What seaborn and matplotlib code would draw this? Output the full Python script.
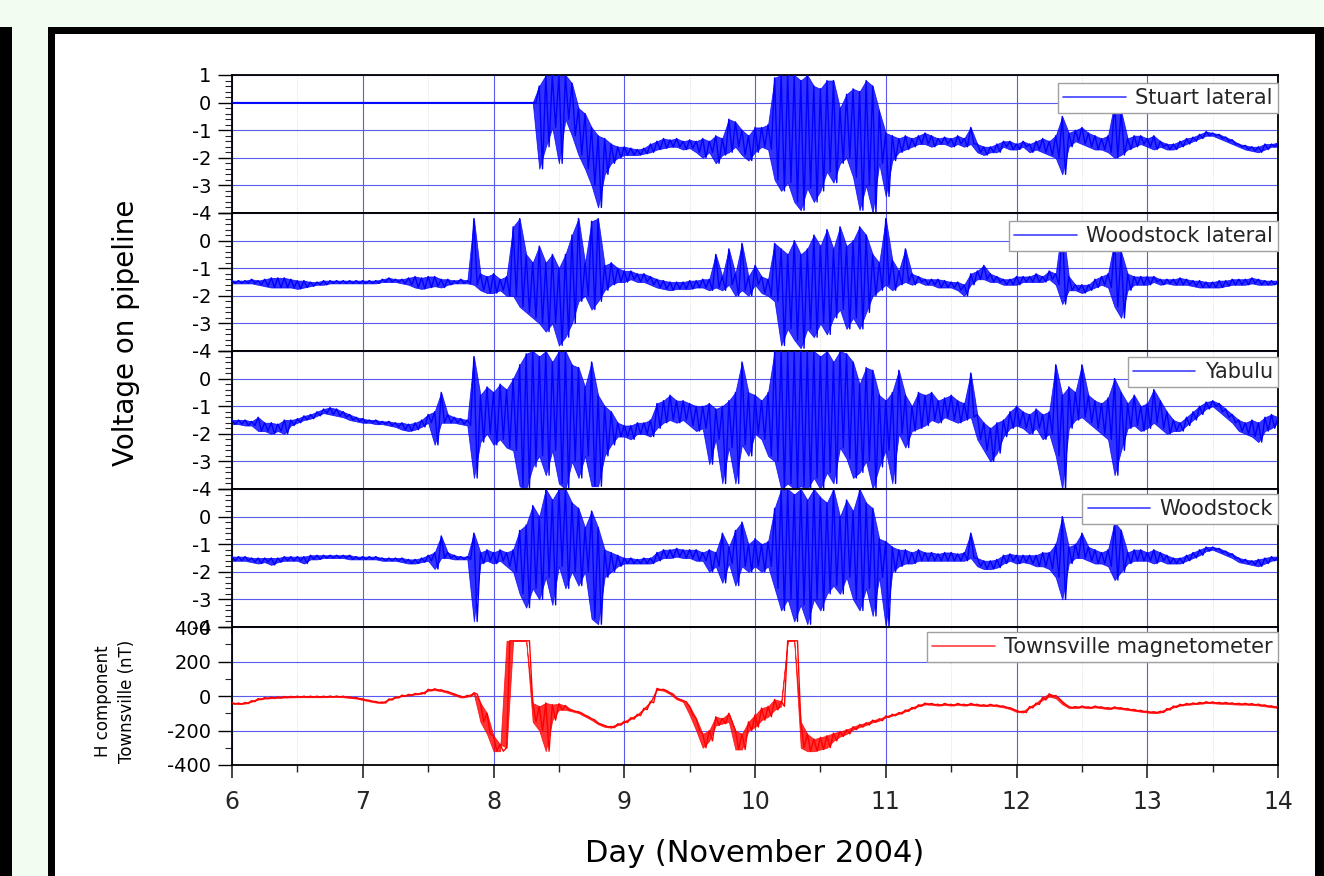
import numpy as np
import matplotlib
matplotlib.use("Agg")
import matplotlib.pyplot as plt
from matplotlib.patches import Rectangle
from matplotlib.ticker import MultipleLocator, FixedLocator, FuncFormatter
import seaborn as sns

# DATA  (one sample every 0.05 day from day 6 to day 14,
# "hi" = upper excursion, "lo" = lower excursion inside that sample)

day_start = 6.0
day_step = 0.05

stuart_hi = [
    0, 0, 0, 0, 0, 0, 0, 0, 0, 0,
    0, 0, 0, 0, 0, 0, 0, 0, 0, 0,
    0, 0, 0, 0, 0, 0, 0, 0, 0, 0,
    0, 0, 0, 0, 0, 0, 0, 0, 0, 0,
    0, 0, 0, 0, 0, 0, 0, 0.6, 1.0, 1.0,
    1.0, 1.0, 0.7, -0.2, -0.4, -0.9, -1.2, -1.3, -1.5, -1.6,
    -1.6, -1.65, -1.7, -1.65, -1.5, -1.4, -1.3, -1.35, -1.3, -1.4,
    -1.35, -1.4, -1.3, -1.4, -1.2, -1.3, -0.6, -0.7, -1.0, -1.2,
    -0.9, -0.9, -0.8, 0.9, 1.0, 1.0, 1.0, 0.8, 1.0, 0.6,
    0.5, 0.8, 0.8, -0.2, 0.3, 0.5, 0.4, 0.8, 0.6, -0.3,
    -1.1, -1.2, -1.3, -1.2, -1.3, -1.2, -1.1, -1.2, -1.3, -1.25,
    -1.3, -1.2, -1.3, -0.9, -1.5, -1.6, -1.6, -1.5, -1.4, -1.4,
    -1.5, -1.4, -1.5, -1.4, -1.3, -1.4, -1.2, -0.5, -1.1, -1.0,
    -0.9, -1.1, -1.2, -1.3, -1.2, 0.0, -0.3, -1.3, -1.2, -1.2,
    -1.3, -1.2, -1.4, -1.5, -1.5, -1.4, -1.3, -1.25, -1.15, -1.05,
    -1.1, -1.15, -1.25, -1.35, -1.5, -1.55, -1.6, -1.6, -1.5, -1.5,
    -1.45,
]
stuart_lo = [
    0, 0, 0, 0, 0, 0, 0, 0, 0, 0,
    0, 0, 0, 0, 0, 0, 0, 0, 0, 0,
    0, 0, 0, 0, 0, 0, 0, 0, 0, 0,
    0, 0, 0, 0, 0, 0, 0, 0, 0, 0,
    0, 0, 0, 0, 0, 0, 0, -2.4, -1.6, -0.9,
    -2.2, -0.6, -1.2, -1.9, -2.4, -3.0, -3.8, -2.6, -2.2, -2.0,
    -1.9, -1.9, -1.9, -1.85, -1.8, -1.7, -1.65, -1.6, -1.6, -1.7,
    -1.65, -1.8, -2.0, -1.8, -2.2, -1.9, -1.8, -1.6, -1.9, -2.1,
    -1.8, -1.6, -1.7, -2.8, -3.2, -2.9, -3.6, -3.9, -3.1, -3.6,
    -3.2, -2.5, -2.9, -2.2, -2.0, -2.7, -3.9, -3.0, -4.0, -2.2,
    -3.4, -2.1, -1.8, -1.7, -1.6, -1.5, -1.5, -1.6, -1.5, -1.5,
    -1.6, -1.5, -1.6, -1.5, -1.8, -1.9, -1.8, -1.8, -1.6, -1.7,
    -1.7, -1.6, -1.8, -1.7, -1.8, -1.9, -2.0, -2.6, -1.6, -1.4,
    -1.5, -1.6, -1.7, -1.7, -1.8, -2.0, -1.9, -1.7, -1.6, -1.5,
    -1.6, -1.7, -1.6, -1.7, -1.7, -1.6, -1.5, -1.4, -1.3, -1.2,
    -1.2, -1.3, -1.4, -1.5, -1.6, -1.7, -1.75, -1.8, -1.7, -1.6,
    -1.6,
]

woodlat_hi = [
    -1.45, -1.45, -1.45, -1.4, -1.45, -1.4, -1.35, -1.35, -1.35, -1.4,
    -1.45, -1.45, -1.5, -1.5, -1.45, -1.45, -1.45, -1.45, -1.45, -1.45,
    -1.45, -1.45, -1.45, -1.4, -1.35, -1.4, -1.4, -1.35, -1.3, -1.35,
    -1.3, -1.3, -1.4, -1.4, -1.45, -1.4, -1.45, 0.8, -1.2, -1.3,
    -1.2, -1.4, -1.3, 0.5, 0.8, -0.5, -0.8, -0.2, -0.8, -0.5,
    -1.0, -0.5, 0.2, 0.8, -0.8, 0.7, 0.8, -0.9, -0.8, -1.0,
    -1.1, -1.1, -1.2, -1.2, -1.3, -1.4, -1.45, -1.5, -1.5, -1.5,
    -1.45, -1.45, -1.4, -1.4, -0.5, -1.3, -0.3, -1.2, -0.1, -1.3,
    -0.9, -1.3, -1.4, -0.1, -0.3, -0.5, 0.0, -0.5, -0.3, 0.2,
    -0.2, 0.4, -0.3, 0.5, -0.2, 0.0, 0.5, 0.2, -0.5, -0.8,
    0.8, -0.7, -1.1, -0.3, -1.2, -1.3, -1.4, -1.4, -1.4, -1.45,
    -1.5, -1.5, -1.6, -1.2, -1.1, -0.9, -1.2, -1.3, -1.4, -1.4,
    -1.3, -1.3, -1.3, -1.2, -1.3, -1.1, -1.2, 0.6, -1.3, -1.6,
    -1.6, -1.6, -1.4, -1.3, -1.2, 0.0, -0.4, -1.2, -1.3, -1.3,
    -1.3, -1.3, -1.4, -1.4, -1.4, -1.35, -1.4, -1.45, -1.45, -1.5,
    -1.5, -1.45, -1.45, -1.4, -1.4, -1.4, -1.35, -1.4, -1.45, -1.45,
    -1.45,
]
woodlat_lo = [
    -1.55, -1.55, -1.55, -1.55, -1.6, -1.65, -1.7, -1.7, -1.7, -1.7,
    -1.75, -1.7, -1.65, -1.6, -1.6, -1.55, -1.55, -1.55, -1.55, -1.55,
    -1.55, -1.55, -1.55, -1.5, -1.5, -1.5, -1.55, -1.6, -1.7, -1.75,
    -1.7, -1.65, -1.7, -1.6, -1.55, -1.55, -1.55, -1.6, -1.8, -1.9,
    -1.9, -1.8, -2.0, -2.0, -2.4, -2.6, -2.8, -3.0, -3.3, -3.0,
    -3.8, -3.5, -3.0, -2.2, -2.0, -2.5, -2.2, -1.8, -1.6, -1.5,
    -1.5, -1.4, -1.5, -1.5, -1.6, -1.7, -1.75, -1.8, -1.75, -1.75,
    -1.75, -1.7, -1.7, -1.8, -1.7, -1.8, -1.6, -2.0, -1.8, -2.0,
    -1.6, -1.9, -2.0, -2.2, -3.8, -3.2, -3.6, -3.9, -3.2, -3.5,
    -3.0, -3.4, -2.8, -2.5, -3.2, -2.8, -3.2, -2.6, -2.0, -1.8,
    -1.6, -1.8, -1.6, -1.5, -1.6, -1.5, -1.6, -1.6, -1.7, -1.7,
    -1.7, -1.8, -2.0, -1.6, -1.4, -1.4, -1.5, -1.5, -1.6, -1.6,
    -1.6, -1.5, -1.5, -1.5, -1.5, -1.4, -1.6, -2.3, -1.8, -1.8,
    -1.9, -1.8, -1.7, -1.6, -1.7, -2.4, -2.8, -1.8, -1.6, -1.6,
    -1.6, -1.5, -1.6, -1.55, -1.6, -1.6, -1.6, -1.65, -1.7, -1.7,
    -1.7, -1.7, -1.65, -1.6, -1.6, -1.6, -1.55, -1.6, -1.6, -1.6,
    -1.55,
]

yabulu_hi = [
    -1.5, -1.5, -1.5, -1.55, -1.4, -1.6, -1.6, -1.65, -1.5, -1.5,
    -1.45, -1.35, -1.3, -1.2, -1.1, -1.05, -1.1, -1.2, -1.3, -1.4,
    -1.45, -1.5, -1.5, -1.55, -1.55, -1.6, -1.6, -1.65, -1.6, -1.5,
    -1.3, -1.2, -0.5, -1.3, -1.4, -1.45, -1.5, 0.8, -0.6, -0.3,
    -0.5, -0.2, -0.4, 0.0, 0.5, 0.9, 1.0, 0.8, 1.0, 0.6,
    1.0, 1.0, 0.5, 0.4, -0.3, 0.6, -0.6, -1.0, -1.2, -1.6,
    -1.7, -1.7, -1.6, -1.6, -1.5, -0.9, -0.8, -0.6, -0.8, -0.8,
    -0.9, -1.0, -1.0, -0.9, -1.1, -1.0, -0.8, -0.5, 0.6, -0.5,
    -0.6, -0.8, -0.5, 1.0, 1.0, 1.0, 1.0, 1.0, 1.0, 1.0,
    0.8, 1.0, 0.6, 1.0, 0.9, 0.6, -0.2, 0.4, 0.3, -0.6,
    -0.8, -0.5, 0.3, -0.6, -1.0, -0.5, -0.6, -0.5, -0.8, -0.7,
    -0.6, -0.8, -0.9, 0.2, -1.3, -1.6, -1.8, -1.6, -1.5, -1.2,
    -1.0, -1.2, -1.3, -1.1, -1.3, -1.2, 0.5, -0.6, -0.3, -0.5,
    0.5, -0.6, -0.8, -0.9, -0.7, 0.0, -0.5, -0.9, -0.6, -1.0,
    -0.9, -0.4, -0.8, -1.2, -1.5, -1.6, -1.4, -1.2, -1.0, -0.85,
    -0.8, -0.9, -1.1, -1.3, -1.5, -1.6, -1.5, -1.6, -1.4, -1.3,
    -1.4,
]
yabulu_lo = [
    -1.65, -1.65, -1.7, -1.7, -1.9, -1.9, -2.0, -1.9, -2.0, -1.7,
    -1.6, -1.5, -1.45, -1.35, -1.25, -1.3, -1.35, -1.4, -1.5, -1.55,
    -1.6, -1.6, -1.65, -1.65, -1.7, -1.75, -1.85, -1.9, -1.85, -1.75,
    -1.6, -2.4, -1.6, -1.6, -1.6, -1.65, -1.7, -3.6, -2.3, -2.0,
    -2.4, -2.2, -2.5, -2.6, -3.9, -4.0, -3.2, -2.8, -3.5, -2.6,
    -3.8, -4.0, -3.0, -3.6, -2.8, -3.9, -3.9, -2.8, -2.4, -2.1,
    -2.1, -2.2, -2.0, -2.0, -2.1, -1.8, -1.6, -1.5, -1.6, -1.5,
    -1.7, -1.9, -1.8, -3.1, -2.2, -3.8, -2.5, -3.8, -2.4, -2.8,
    -2.0, -2.2, -2.8, -3.0, -4.0, -3.8, -4.0, -3.9, -4.0, -3.6,
    -4.0, -3.4, -3.8, -2.5, -2.9, -3.6, -3.4, -3.0, -4.0, -3.2,
    -2.6, -3.8, -2.0, -2.5, -1.9, -1.8, -1.7, -1.5, -1.6, -1.4,
    -1.5, -1.6, -1.5, -1.4, -2.2, -2.6, -3.0, -2.7, -2.1, -1.8,
    -1.7, -1.8, -2.0, -1.8, -2.2, -2.0, -2.8, -4.0, -1.8, -1.5,
    -1.4, -1.6, -1.8, -2.0, -2.2, -3.5, -2.6, -1.8, -1.7, -1.9,
    -1.8, -1.6, -1.8, -2.0, -1.9, -1.9, -1.7, -1.5, -1.3, -1.1,
    -1.0, -1.2, -1.4, -1.6, -1.9, -2.0, -2.1, -2.3, -1.9, -1.8,
    -1.6,
]

woodstock_hi = [
    -1.45, -1.45, -1.45, -1.5, -1.5, -1.5, -1.5, -1.5, -1.45, -1.45,
    -1.45, -1.45, -1.4, -1.4, -1.4, -1.4, -1.4, -1.4, -1.4, -1.45,
    -1.45, -1.45, -1.45, -1.5, -1.5, -1.5, -1.5, -1.55, -1.55, -1.5,
    -1.4, -1.3, -0.7, -1.3, -1.4, -1.45, -1.45, -0.6, -1.3, -1.2,
    -1.3, -1.2, -1.3, -1.2, -0.5, -0.3, 0.4, 0.0, 1.0, 0.6,
    1.0, 1.0, 0.5, 0.3, -0.4, 0.2, -0.4, -1.2, -1.3, -1.4,
    -1.5, -1.5, -1.55, -1.5, -1.5, -1.3, -1.2, -1.2, -1.15, -1.2,
    -1.2, -1.2, -1.3, -1.2, -1.3, -0.6, -1.1, -0.5, -0.2, -1.0,
    -0.8, -1.0, -0.9, 0.3, 1.0, 1.0, 0.8, 1.0, 0.6, 1.0,
    0.7, 0.5, 1.0, 0.0, 0.6, 0.2, 1.0, 0.5, 0.3, -0.8,
    -0.9, -1.1, -1.2, -1.2, -1.3, -1.2, -1.3, -1.3, -1.35, -1.3,
    -1.3, -1.35, -1.3, -0.6, -1.5, -1.6, -1.6, -1.55, -1.4, -1.35,
    -1.4, -1.4, -1.4, -1.4, -1.3, -1.3, -1.0, 0.0, -1.1, -1.0,
    -0.6, -1.1, -1.2, -1.3, -1.2, -0.2, -0.5, -1.3, -1.2, -1.2,
    -1.3, -1.2, -1.3, -1.4, -1.5, -1.5, -1.4, -1.3, -1.2, -1.1,
    -1.1, -1.15, -1.25, -1.35, -1.5, -1.55, -1.6, -1.55, -1.5, -1.45,
    -1.45,
]
woodstock_lo = [
    -1.6, -1.6, -1.6, -1.65, -1.7, -1.65, -1.75, -1.65, -1.6, -1.6,
    -1.6, -1.7, -1.55, -1.55, -1.5, -1.5, -1.5, -1.5, -1.55, -1.55,
    -1.55, -1.55, -1.55, -1.6, -1.6, -1.6, -1.65, -1.7, -1.7, -1.65,
    -1.6, -1.9, -1.5, -1.5, -1.55, -1.55, -1.55, -3.8, -1.7, -1.6,
    -1.7, -1.6, -1.8, -2.0, -2.8, -3.3, -2.6, -3.0, -2.2, -3.2,
    -1.8, -2.6, -2.0, -2.5, -2.0, -3.7, -3.9, -2.2, -2.0, -1.8,
    -1.7, -1.7, -1.7, -1.7, -1.7, -1.6, -1.5, -1.5, -1.45, -1.5,
    -1.5, -1.6, -1.6, -2.0, -1.8, -2.4, -1.7, -2.5, -1.8, -2.0,
    -1.8, -2.0, -1.8, -2.6, -3.4, -3.0, -3.8, -3.2, -3.9, -3.0,
    -3.4, -2.8, -2.5, -2.8, -2.2, -3.0, -3.4, -2.6, -3.6, -2.2,
    -4.0, -2.0, -1.8, -1.7, -1.7, -1.6, -1.6, -1.6, -1.6, -1.6,
    -1.6, -1.6, -1.6, -1.5, -1.8, -1.9, -1.9, -1.85, -1.7, -1.6,
    -1.7, -1.65, -1.7, -1.8, -1.8, -1.9, -2.2, -3.0, -1.7, -1.5,
    -1.5, -1.6, -1.7, -1.7, -1.8, -2.3, -2.0, -1.7, -1.6, -1.6,
    -1.6, -1.7, -1.6, -1.7, -1.7, -1.7, -1.6, -1.5, -1.4, -1.25,
    -1.2, -1.3, -1.4, -1.5, -1.65, -1.7, -1.75, -1.8, -1.7, -1.6,
    -1.55,
]

mag_hi = [
    -39, -41, -38, -27, -15, -9, -7, -5, -3, -2,
    -1, -1, -1, -1, -1, 0, 0, -1, -5, -9,
    -17, -25, -32, -35, -17, -5, 5, 9, 15, 19,
    39, 42, 36, 26, 12, -1, 4, 19, -40, -100,
    -230, -280, -300, 320, 320, 320, -40, -60, -40, -50,
    -45, -55, -81, -91, -111, -131, -156, -171, -176, -161,
    -146, -126, -106, -71, -31, 44, 39, 19, -11, -26,
    -60, -130, -220, -200, -120, -130, -100, -200, -220, -150,
    -110, -70, -60, -20, -30, 320, 320, -150, -220, -250,
    -240, -230, -215, -205, -195, -178, -165, -155, -140, -132,
    -116, -106, -96, -81, -66, -51, -41, -43, -48, -43,
    -48, -43, -48, -43, -48, -51, -48, -52, -58, -68,
    -84, -88, -61, -41, -7, 13, 3, -32, -61, -61,
    -58, -63, -58, -63, -68, -63, -68, -73, -78, -83,
    -88, -91, -88, -73, -58, -48, -43, -40, -37, -33,
    -34, -37, -37, -40, -42, -42, -44, -47, -52, -57,
    -61,
]
mag_lo = [
    -45, -47, -44, -33, -21, -15, -13, -11, -9, -8,
    -7, -7, -7, -7, -7, -6, -6, -7, -11, -15,
    -23, -31, -38, -41, -23, -11, -1, 3, 9, 13,
    31, 34, 28, 18, 4, -9, -4, 11, -150, -220,
    -320, -320, 320, 320, 320, 320, -150, -200, -320, -140,
    -80, -80, -89, -99, -119, -139, -164, -179, -184, -169,
    -154, -134, -114, -79, -39, 36, 31, 11, -19, -34,
    -110, -200, -300, -260, -170, -160, -150, -310, -310, -200,
    -180, -140, -120, -80, -60, 320, 320, -300, -320, -320,
    -310, -300, -260, -235, -220, -195, -180, -168, -152, -143,
    -124, -114, -104, -89, -74, -59, -49, -51, -56, -51,
    -56, -51, -56, -51, -56, -59, -56, -60, -66, -76,
    -92, -96, -69, -49, -23, -3, -13, -48, -69, -69,
    -66, -71, -66, -71, -76, -71, -76, -81, -86, -91,
    -96, -99, -96, -81, -66, -56, -51, -48, -45, -41,
    -42, -45, -45, -48, -50, -50, -52, -55, -60, -65,
    -69,
]

voltage_names = ["Stuart lateral", "Woodstock lateral", "Yabulu", "Woodstock"]
voltage_hi = [stuart_hi, woodlat_hi, yabulu_hi, woodstock_hi]
voltage_lo = [stuart_lo, woodlat_lo, yabulu_lo, woodstock_lo]
mag_name = "Townsville magnetometer"

# HELPERS


def sample_days(values):
    return day_start + day_step * np.arange(len(values))


def zigzag(hi, lo):
    # upper value at the sample time, lower value half a step later
    days = sample_days(hi)
    x = np.column_stack([days, days + day_step / 2]).ravel()
    y = np.column_stack([hi, lo]).ravel()
    return x, y


def draw_trace(ax, hi, lo, color, name):
    # envelope band + zigzag trace so the record reads as a dense signal
    days = sample_days(hi)
    ax.fill_between(days, lo, hi, color=color, alpha=0.8, lw=0.6, zorder=2)
    x, y = zigzag(hi, lo)
    sns.lineplot(x=x, y=y, ax=ax, color=color, lw=1.0, label=name,
                 estimator=None, sort=False, zorder=3)


def style_panel(ax, bottom_panel):
    ax.set_xlim(6, 14)
    ax.xaxis.set_major_locator(MultipleLocator(1))
    ax.xaxis.set_minor_locator(MultipleLocator(0.5))
    ax.grid(True, which="major", color="#5a5aee", lw=0.8)
    ax.grid(True, which="minor", axis="x", color="#d8d8c8", lw=0.6, ls=":")
    ax.set_axisbelow(True)
    for side in ["top", "bottom", "left", "right"]:
        ax.spines[side].set_visible(True)
        ax.spines[side].set_color("black")
        ax.spines[side].set_linewidth(1.3)
    ax.tick_params(axis="y", which="major", direction="out", length=10,
                   width=1.0, pad=5, labelsize=14, left=True, colors="black")
    ax.tick_params(axis="y", which="minor", direction="out", length=5,
                   width=0.8, left=True)
    if bottom_panel:
        ax.tick_params(axis="x", which="major", direction="out", length=9,
                       width=1.2, pad=9, labelsize=17, bottom=True)
        ax.tick_params(axis="x", which="minor", direction="out", length=5,
                       width=1.0, bottom=True)
    else:
        ax.tick_params(axis="x", which="major", direction="out", length=5,
                       width=1.2, bottom=True, labelbottom=False)
        ax.tick_params(axis="x", which="minor", direction="out", length=3.5,
                       width=1.0, bottom=True)
    ax.set_xlabel("")
    ax.set_ylabel("")


def panel_legend(ax, top_gap):
    leg = ax.legend(
        loc="upper right",
        bbox_to_anchor=(1.0, 1 - top_gap / 138),
        borderaxespad=0,
        fontsize=15,
        handlelength=3.0,
        handletextpad=0.45,
        borderpad=0.25,
        fancybox=False,
        framealpha=1,
        edgecolor="#a0a0a0",
    )
    leg.set_zorder(5)
    leg.get_frame().set_linewidth(1.0)
    for line in leg.get_lines():
        line.set_linewidth(1.2)
        line.set_alpha(0.75)


# FIGURE

sns.set_theme(style="ticks")
plt.rcParams["font.family"] = ["DejaVu Sans"]
plt.rcParams["axes.unicode_minus"] = False

W, H = 1324, 876
fig = plt.figure(figsize=(W / 100, H / 100), dpi=100, facecolor="#f1fdf0")

# frame decorations around the chart
fig.add_artist(Rectangle((0, 0), 12 / W, (H - 27) / H, transform=fig.transFigure,
                         facecolor="black", edgecolor="none", zorder=-10))
fig.add_artist(Rectangle((48 / W, 0), 1.0, (H - 27) / H, transform=fig.transFigure,
                         facecolor="black", edgecolor="none", zorder=-10))
fig.add_artist(Rectangle((55 / W, 0), (1315 - 55) / W, (H - 34) / H,
                         transform=fig.transFigure, facecolor="white",
                         edgecolor="none", zorder=-9))

left, right = 232, 1278
panel_h = 138
tops = [75, 213, 351, 489, 627]
axes = [fig.add_axes([left / W, 1 - (t + panel_h) / H, (right - left) / W, panel_h / H])
        for t in tops]

legend_gaps = [8, 8, 6, 5]

for k, ax in enumerate(axes[:4]):
    draw_trace(ax, voltage_hi[k], voltage_lo[k], "#0000ff", voltage_names[k])
    style_panel(ax, bottom_panel=False)
    ax.set_ylim(-4, 1)
    ax.yaxis.set_major_locator(FixedLocator([-4, -3, -2, -1, 0, 1]))
    ax.yaxis.set_minor_locator(MultipleLocator(0.2))
    if k == 0:
        ax.yaxis.set_major_formatter(FuncFormatter(lambda v, p: "%d" % v))
    else:
        ax.yaxis.set_major_formatter(
            FuncFormatter(lambda v, p: "" if v > 0.5 else "%d" % v))
    panel_legend(ax, legend_gaps[k])

ax5 = axes[4]
draw_trace(ax5, mag_hi, mag_lo, "#ff0000", mag_name)
style_panel(ax5, bottom_panel=True)
ax5.set_ylim(-400, 400)
ax5.yaxis.set_major_locator(MultipleLocator(200))
ax5.yaxis.set_minor_locator(MultipleLocator(100))
ax5.yaxis.set_major_formatter(FuncFormatter(lambda v, p: "%d" % v))
panel_legend(ax5, 5)

fig.text(0.0952, (H - 333) / H, "Voltage on pipeline", rotation=90,
         ha="center", va="center", fontsize=20, color="black")
fig.text(115 / W, (H - 701) / H, "H component\nTownsville (nT)", rotation=90,
         ha="center", va="center", fontsize=12, color="black",
         linespacing=1.45, multialignment="center")
fig.text((left + right) / 2 / W, (H - 862) / H, "Day (November 2004)",
         ha="center", va="baseline", fontsize=22, color="black")

fig.savefig("out.png", dpi=100, facecolor=fig.get_facecolor())
